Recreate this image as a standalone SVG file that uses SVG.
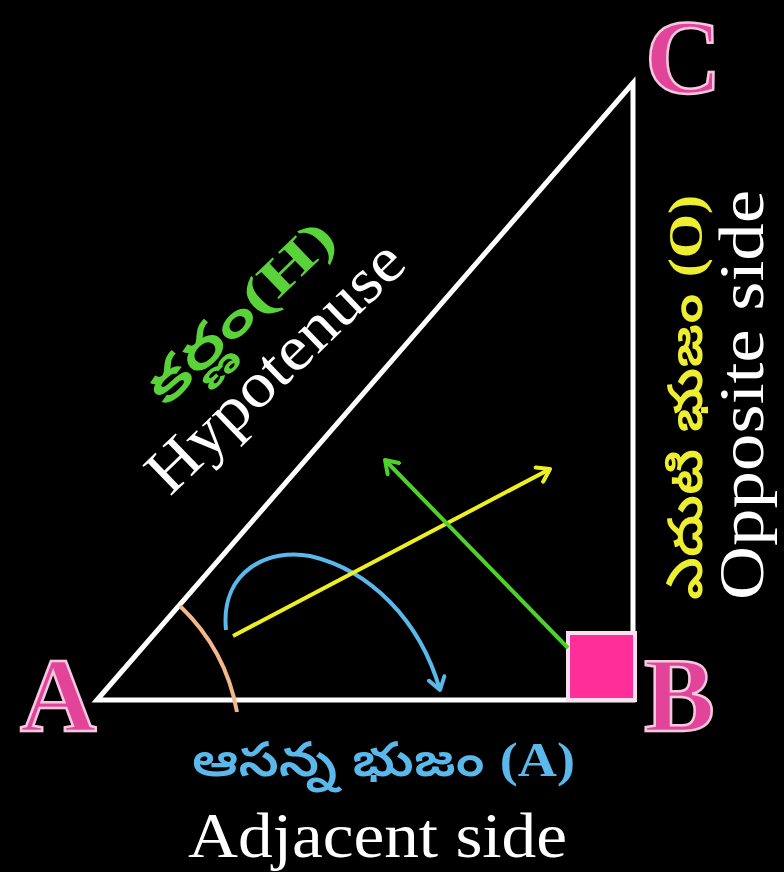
<svg xmlns="http://www.w3.org/2000/svg" width="784" height="872" viewBox="0 0 784 872">
<defs>
<style>
.side{stroke:#ffffff;stroke-width:5;fill:none;stroke-linecap:round}
.vlabel{font-family:"Liberation Serif",serif;font-weight:bold;font-size:106px;fill:#e2449a;stroke:#f6c8e0;stroke-width:2.5}
.en{font-family:"Liberation Serif",serif;fill:#ffffff}
.te{font-family:"Noto Sans Telugu","Noto Serif Telugu","Noto Sans",sans-serif;font-weight:600}
.par{font-family:"Liberation Serif",serif;font-weight:bold}
</style>
<marker id="mY" viewBox="0 0 20 20" refX="14" refY="10" markerWidth="20" markerHeight="20" markerUnits="userSpaceOnUse" orient="auto">
<path d="M2,2 L14,10 L2,18" fill="none" stroke="#eeee22" stroke-width="4" stroke-linecap="round" stroke-linejoin="round"/>
</marker>
<marker id="mG" viewBox="0 0 20 20" refX="14" refY="10" markerWidth="20" markerHeight="20" markerUnits="userSpaceOnUse" orient="auto">
<path d="M2,2 L14,10 L2,18" fill="none" stroke="#4fd12c" stroke-width="4" stroke-linecap="round" stroke-linejoin="round"/>
</marker>
<marker id="mB" viewBox="0 0 20 20" refX="14" refY="10" markerWidth="20" markerHeight="20" markerUnits="userSpaceOnUse" orient="auto">
<path d="M2,2 L14,10 L2,18" fill="none" stroke="#5ab8ea" stroke-width="4" stroke-linecap="round" stroke-linejoin="round"/>
</marker>
</defs>
<rect width="784" height="872" fill="#000000"/>
<g id="triangle">
<path class="side" d="M97,700 L633,83 L633,700 Z"/>
</g>
<g id="right-angle">
<rect x="568" y="633" width="67" height="67" fill="#ff2e98" stroke="#f8e0ee" stroke-width="4"/>
</g>
<g id="connectors">
<path d="M180,606 Q226,650 237,712" fill="none" stroke="#f2b88c" stroke-width="4"/>
<path d="M226,630 C220,570 270,548 310,556 C370,570 420,620 440,690" fill="none" stroke="#5ab8ea" stroke-width="4" marker-end="url(#mB)"/>
<line x1="233" y1="636" x2="550" y2="469" stroke="#eeee22" stroke-width="4" marker-end="url(#mY)"/>
<line x1="568" y1="648" x2="385" y2="460" stroke="#4fd12c" stroke-width="4" marker-end="url(#mG)"/>
</g>
<g id="vertex-A"><text class="vlabel" x="20" y="731">A</text></g>
<g id="vertex-B"><text class="vlabel" x="644" y="731">B</text></g>
<g id="vertex-C"><text class="vlabel" x="645" y="93">C</text></g>
<g id="hypotenuse-label">
<text class="en" font-size="64" transform="translate(170,497) rotate(-44)" textLength="332" lengthAdjust="spacingAndGlyphs">Hypotenuse</text>
<text class="te" font-size="52" fill="#5ad23a" transform="translate(166,408) rotate(-44)" textLength="240" lengthAdjust="spacingAndGlyphs">కర్ణం<tspan class="par">(H)</tspan></text>
</g>
<g id="opposite-label">
<text class="en" font-size="64" transform="translate(763,600) rotate(-90)" textLength="410" lengthAdjust="spacingAndGlyphs">Opposite side</text>
<text class="te" font-size="48" fill="#eeee30" transform="translate(702,600) rotate(-90)" textLength="405" lengthAdjust="spacingAndGlyphs">ఎదుటి భుజం <tspan class="par">(O)</tspan></text>
</g>
<g id="adjacent-label">
<text class="te" font-size="48" fill="#5ab8ea" x="192" y="776" textLength="383" lengthAdjust="spacingAndGlyphs">ఆసన్న భుజం <tspan class="par">(A)</tspan></text>
<text class="en" font-size="64" x="188" y="857" textLength="379" lengthAdjust="spacingAndGlyphs">Adjacent  side</text>
</g>
</svg>
